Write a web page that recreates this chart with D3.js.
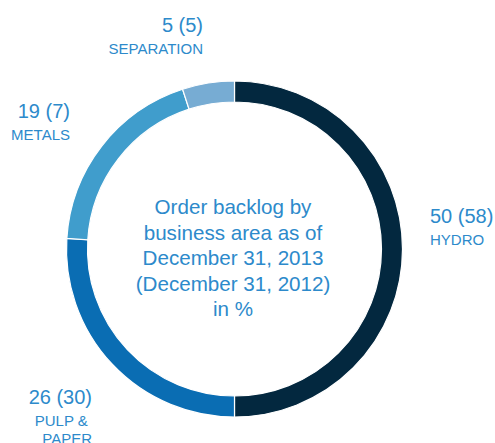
<!DOCTYPE html>
<html>
<head>
<meta charset="utf-8">
<script src="https://cdn.jsdelivr.net/npm/d3@7"></script>
<style>
  html, body { margin: 0; padding: 0; background: #fff; }
  svg { display: block; font-family: "Liberation Sans", Arial, sans-serif; }
</style>
</head>
<body>
<svg id="chart"></svg>
<script>
// order backlog by business area, % (2013, 2012 in brackets)
const areas = ["HYDRO", "PULP & PAPER", "METALS", "SEPARATION"];
const share2013 = [50, 26, 19, 5];
const share2012 = [58, 30, 7, 5];
const centerLines = ["Order backlog by", "business area as of", "December 31, 2013", "(December 31, 2012)", "in %"];

const colors = ["#03283f", "#0a6db3", "#409dcc", "#77acd3"];
const textColor = "#2d8acb";

const width = 495, height = 443;
const cx = 234.5, cy = 249;
const outerR = 168, innerR = 147;

const svg = d3.select("#chart")
  .attr("width", width)
  .attr("height", height);

const data = areas.map((a, i) => ({ name: a, value: share2013[i], prev: share2012[i] }));

const pie = d3.pie()
  .sort(null)
  .value(d => d.value);

const arc = d3.arc()
  .innerRadius(innerR)
  .outerRadius(outerR);

const g = svg.append("g")
  .attr("transform", "translate(" + cx + "," + cy + ")");

g.selectAll("path")
  .data(pie(data))
  .join("path")
  .attr("d", arc)
  .attr("fill", (d, i) => colors[i])
  .attr("stroke", "#fff")
  .attr("stroke-width", 1.2);

// centre text
const ct = g.append("text")
  .attr("text-anchor", "middle")
  .attr("fill", textColor)
  .attr("font-size", 20.6);
centerLines.forEach((t, i) => {
  ct.append("tspan")
    .attr("x", -1.5)
    .attr("y", -35 + i * 25.6)
    .text(t);
});

// label layout (relative to chart origin), one entry per area
const labelPos = [
  { x: 430, y: 223, anchor: "start" },
  { x: 92, y: 404, anchor: "end" },
  { x: 70, y: 118, anchor: "end" },
  { x: 203, y: 32, anchor: "end" }
];

data.forEach((d, i) => {
  const p = labelPos[i];
  const lab = svg.append("text")
    .attr("text-anchor", p.anchor)
    .attr("fill", textColor);
  lab.append("tspan")
    .attr("x", p.x)
    .attr("y", p.y)
    .attr("font-size", 20)
    .text(d.value + " (" + d.prev + ")");
  // the reference breaks PULP & PAPER over two lines
  const words = d.name === "PULP & PAPER" ? ["PULP &\u00a0", "PAPER"] : [d.name];
  words.forEach((w, j) => {
    lab.append("tspan")
      .attr("x", p.x)
      .attr("y", p.y + 21.5 + j * 18)
      .attr("font-size", 15)
      .text(w);
  });
});
</script>
</body>
</html>
